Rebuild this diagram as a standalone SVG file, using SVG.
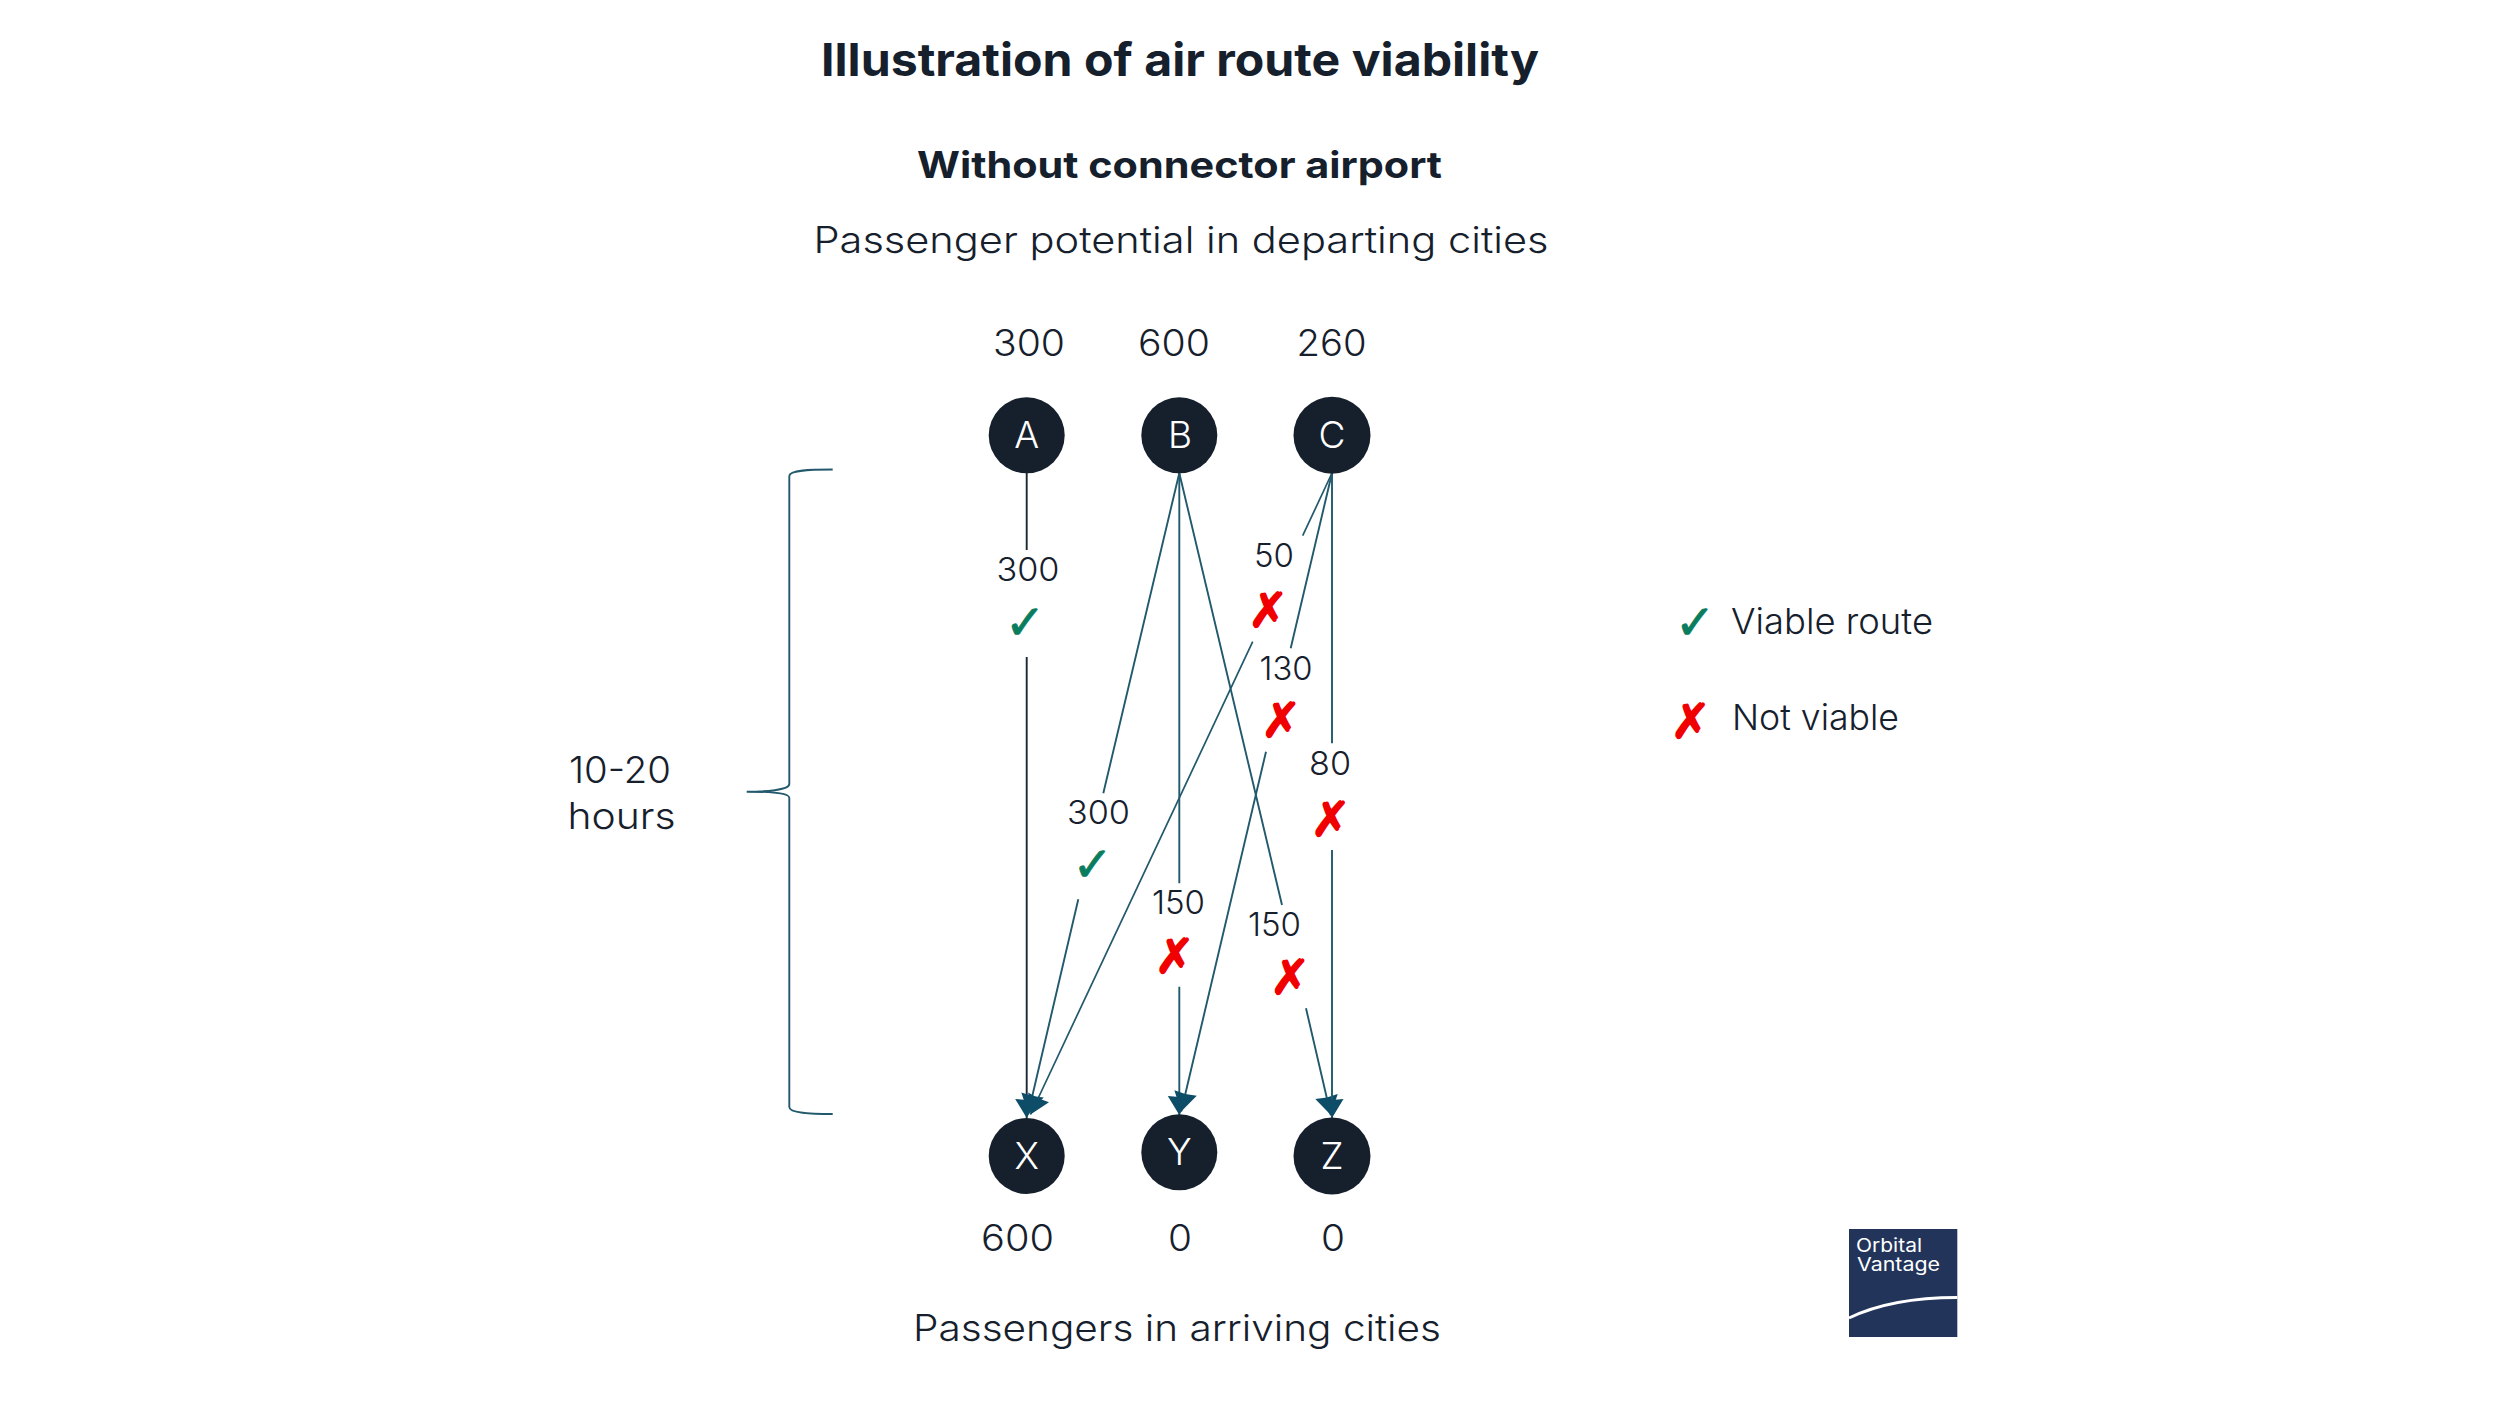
<svg xmlns="http://www.w3.org/2000/svg" width="2500" height="1409" viewBox="0 0 2500 1409">
<defs>
<marker id="ah" markerUnits="userSpaceOnUse" markerWidth="26" markerHeight="26" viewBox="-21 -13 26 26" refX="0" refY="0" orient="auto"><path d="M0,0 L-19,-11.5 L-18,0 L-19,11.5 Z" fill="#0e4d68"/></marker>
</defs>
<style>
text{font-family:"Inter","Liberation Sans",sans-serif;fill:#16202c;font-weight:300}
.m{text-anchor:middle}
.b{font-weight:700}
.num{font-size:36.5px}
.el{font-size:33px}
.node{fill:#16202c}
.nl{fill:#fff;font-size:37px;text-anchor:middle}
.c{fill:none;stroke:#22596c;stroke-width:1.9}
.ok,.no{font-family:"DejaVu Sans",sans-serif;font-size:48px;text-anchor:middle;font-weight:400}
.ok{fill:#0a7d5e;stroke:#0a7d5e;stroke-width:1}
.no{fill:#f00000;stroke:#f00000;stroke-width:1.6}
</style>
<rect width="2500" height="1409" fill="#fff"/>
<g id="titles">
<text class="m b" x="1180" y="75.5" font-size="45" textLength="718" lengthAdjust="spacingAndGlyphs">Illustration of air route viability</text>
<text class="m b" x="1179.5" y="177.5" font-size="37" textLength="525" lengthAdjust="spacingAndGlyphs">Without connector airport</text>
<text class="m" x="1181" y="252.5" font-size="37" textLength="735" lengthAdjust="spacingAndGlyphs">Passenger potential in departing cities</text>
<text class="m" x="1177" y="1340.5" font-size="37" textLength="528" lengthAdjust="spacingAndGlyphs">Passengers in arriving cities</text>
</g>
<g id="connectors">
<path id="a-x" class="c" style="stroke:#1a2a33" d="M1026.7,473V550M1026.7,657V1118" marker-end="url(#ah)"/>
<path id="b-x" class="c" d="M1179.3,473L1103.3,793.3M1078.3,899.3L1028.2,1113.5" marker-end="url(#ah)"/>
<path id="c-x" class="c" style="stroke-width:1.7" d="M1332,473L1302.7,535.7M1252.7,641.7L1030.5,1114.5" marker-end="url(#ah)"/>
<path id="b-y" class="c" d="M1179.3,473V883.3M1179.3,986.7V1115" marker-end="url(#ah)"/>
<path id="c-y" class="c" d="M1332,473L1290.7,648.3M1266,751.7L1181.2,1111.5" marker-end="url(#ah)"/>
<path id="b-z" class="c" d="M1179.3,473L1282,905M1306,1008.3L1330.8,1115" marker-end="url(#ah)"/>
<path id="c-z" class="c" d="M1332,473V743.3M1332,850V1118" marker-end="url(#ah)"/>
</g>
<g id="node-a"><circle class="node" cx="1026.7" cy="435.3" r="38"/><text class="nl" x="1026.7" y="448.3">A</text></g>
<g id="node-b"><circle class="node" cx="1179.3" cy="435.3" r="38"/><text class="nl" x="1180" y="448.3">B</text></g>
<g id="node-c"><circle class="node" cx="1332" cy="435.3" r="38.5"/><text class="nl" x="1332" y="448.3">C</text></g>
<g id="node-x"><circle class="node" cx="1026.7" cy="1156" r="38"/><text class="nl" x="1026.7" y="1168.5">X</text></g>
<g id="node-y"><circle class="node" cx="1179.3" cy="1152.3" r="38"/><text class="nl" x="1179.3" y="1165">Y</text></g>
<g id="node-z"><circle class="node" cx="1332" cy="1156" r="38.5"/><text class="nl" x="1332" y="1168.5">Z</text></g>
<g id="counts">
<text class="m num" x="1029" y="356" textLength="72" lengthAdjust="spacingAndGlyphs">300</text>
<text class="m num" x="1174" y="356" textLength="72" lengthAdjust="spacingAndGlyphs">600</text>
<text class="m num" x="1331.5" y="356" textLength="70" lengthAdjust="spacingAndGlyphs">260</text>
<text class="m num" x="1017.5" y="1251" textLength="73" lengthAdjust="spacingAndGlyphs">600</text>
<text class="m num" x="1180" y="1251" textLength="24" lengthAdjust="spacingAndGlyphs">0</text>
<text class="m num" x="1333" y="1251" textLength="24" lengthAdjust="spacingAndGlyphs">0</text>
</g>
<g id="edge-labels">
<text class="m el" x="1028" y="580.5" textLength="63" lengthAdjust="spacingAndGlyphs">300</text>
<text class="m el" x="1274" y="567" textLength="40" lengthAdjust="spacingAndGlyphs">50</text>
<text class="m el" x="1286" y="679.5" textLength="53" lengthAdjust="spacingAndGlyphs">130</text>
<text class="m el" x="1330" y="775" textLength="42" lengthAdjust="spacingAndGlyphs">80</text>
<text class="m el" x="1098.5" y="823.5" textLength="63" lengthAdjust="spacingAndGlyphs">300</text>
<text class="m el" x="1178.5" y="913.5" textLength="53" lengthAdjust="spacingAndGlyphs">150</text>
<text class="m el" x="1274.5" y="935.5" textLength="53" lengthAdjust="spacingAndGlyphs">150</text>
</g>
<g id="marks">
<text class="ok" x="1025" y="639">✓</text>
<text class="no" x="1268" y="627">✗</text>
<text class="no" x="1281" y="737">✗</text>
<text class="no" x="1330.5" y="836">✗</text>
<text class="ok" x="1092.5" y="881">✓</text>
<text class="no" x="1174.5" y="973">✗</text>
<text class="no" x="1290" y="994">✗</text>
</g>
<g id="legend">
<text class="ok" x="1695" y="639">✓</text>
<text class="no" x="1690.5" y="738">✗</text>
<text x="1731" y="633.5" font-size="35.5" textLength="202" lengthAdjust="spacingAndGlyphs">Viable route</text>
<text x="1732" y="729.5" font-size="35.5" textLength="167" lengthAdjust="spacingAndGlyphs">Not viable</text>
</g>
<g id="brace">
<path d="M832.7,469.5C810,469.5 789.3,470 789.3,476V784C789.3,790 765,791.7 746.7,791.7C765,791.7 789.3,792 789.3,798V1107C789.3,1113 810,1114 832.7,1114" fill="none" stroke="#22596c" stroke-width="1.9"/>
<text class="m" x="620" y="783" font-size="37" textLength="102" lengthAdjust="spacingAndGlyphs">10-20</text>
<text class="m" x="621.5" y="829" font-size="37" textLength="108" lengthAdjust="spacingAndGlyphs">hours</text>
</g>
<g id="logo">
<rect x="1849" y="1229" width="108.3" height="108" fill="#22345a"/>
<path d="M1849,1318C1880,1303 1915,1297.5 1957.3,1297.5" fill="none" stroke="#fff" stroke-width="3"/>
<text x="1856" y="1251.5" font-size="18.5" style="fill:#fff;font-weight:400" textLength="66" lengthAdjust="spacingAndGlyphs">Orbital</text>
<text x="1857" y="1270.5" font-size="18.5" style="fill:#fff;font-weight:400" textLength="83" lengthAdjust="spacingAndGlyphs">Vantage</text>
</g>
</svg>
